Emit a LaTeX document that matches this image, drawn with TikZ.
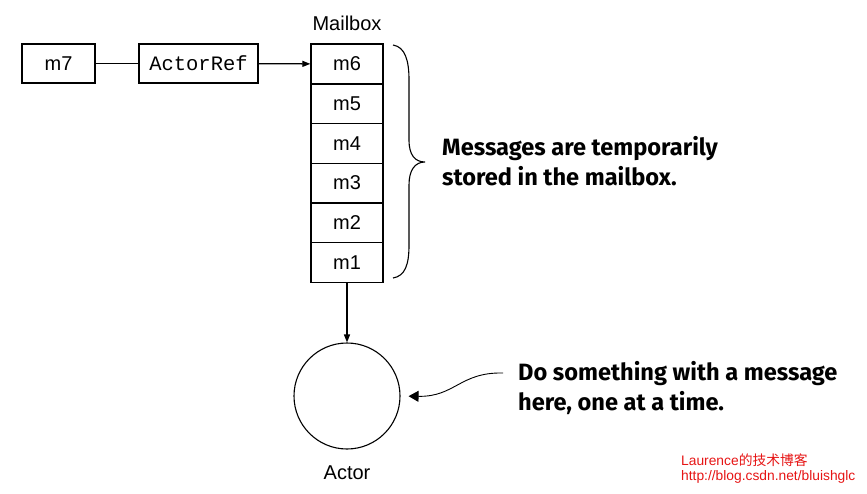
\documentclass[tikz,border=0pt]{standalone}
\usepackage{fontspec}
\setmainfont{Liberation Sans}
\newfontfamily\monof{Liberation Mono}
\newfontfamily\boldf{Fira Sans}
\newfontfamily\cjkf{Noto Sans CJK SC}
\usetikzlibrary{arrows.meta}
\definecolor{wm}{RGB}{230,20,20}
\begin{document}
\begin{tikzpicture}[x=1pt,y=-1pt,
  box/.style={draw,line width=1.4pt,inner sep=0pt,font=\fontsize{20}{24}\selectfont},
  cell/.style={box,minimum width=72pt,minimum height=39.7pt},
  lbl/.style={inner sep=0pt,font=\fontsize{20}{24}\selectfont},
  note/.style={inner sep=0pt,align=left,anchor=west,font=\boldf\bfseries\fontsize{23.6}{29.5}\selectfont},
  conn/.style={line width=1.3pt},
  smallarrow/.style={conn,-{Triangle[length=8pt,width=6pt]}},
  bigarrow/.style={line width=0.9pt,-{Triangle[length=10pt,width=11pt]}}]
\useasboundingbox (0,0) rectangle (867,493);
\node[box,minimum width=73pt,minimum height=39pt] (m7) at (58.5,63.5) {m7};
\node[box,minimum width=119pt,minimum height=39pt,font=\monof\fontsize{20.5}{24}\selectfont] (ref) at (198.5,63.5) {ActorRef};
\node[cell] (m6) at (347,64) {m6};
\node[cell] (m5) at (347,103.7) {m5};
\node[cell] (m4) at (347,143.4) {m4};
\node[cell] (m3) at (347,183.1) {m3};
\node[cell] (m2) at (347,222.8) {m2};
\node[cell] (m1) at (347,262.5) {m1};
\node[lbl] (mb) at (347,23) {Mailbox};
\draw[conn] (m7) -- (ref);
\draw[smallarrow] (ref) -- (m6);
\draw[line width=1.1pt] (393,45) .. controls (405,47) and (409,60) .. (409,80) -- (409,140) .. controls (409,155) and (415,162) .. (425,162) .. controls (415,162) and (409,170) .. (409,185) -- (409,245) .. controls (409,265) and (405,276) .. (393,278);
\node[note] (t1) at (442,161) {Messages are temporarily\\stored in the mailbox.};
\node[draw,circle,line width=1.1pt,minimum size=106pt,inner sep=0pt] (actor) at (347,396) {};
\node[lbl] (al) at (347,473) {Actor};
\draw[smallarrow] (m1) -- (actor);
\coordinate (ws) at (503,373);
\draw[bigarrow,shorten >=8pt] (ws) .. controls (460,372) and (455,397) .. (actor.east);
\node[note] (t2) at (518,388) {Do something with a message\\here, one at a time.};
\node[inner sep=0pt,anchor=west,text=wm,align=left,font=\fontsize{13.8}{15}\selectfont] (wmk) at (681,468.5) {Laurence{\cjkf 的技术博客}\\http://blog.csdn.net/bluishglc};
\end{tikzpicture}
\end{document}
